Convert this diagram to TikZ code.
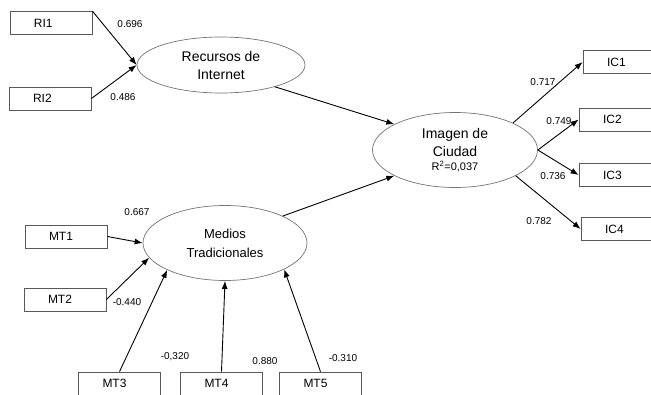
\documentclass[tikz,border=0pt]{standalone}
\usepackage{fontspec}
\setmainfont{Liberation Sans}
\usetikzlibrary{shapes.geometric,arrows.meta}

\tikzset{
  ind/.style={draw=black!65, line width=0.8pt, minimum height=23pt, text width=34pt,
    inner xsep=24pt, inner ysep=0pt, align=left, font=\fontsize{12}{14}\selectfont},
  lat/.style={ellipse, draw=black!55, line width=0.7pt, inner sep=0pt, align=center,
    font=\fontsize{14}{18}\selectfont},
  wt/.style={inner sep=0pt, font=\fontsize{10}{12}\selectfont},
}

\begin{document}
\begin{tikzpicture}[x=1pt,y=-1pt,>={Latex[length=8pt,width=6pt]},line width=0.9pt]
  \clip (0,0) rectangle (651,394);
  % indicadores
  \node[ind] (ri1) at (51,23) {RI1};
  \node[ind] (ri2) at (50,98.5) {RI2};
  \node[ind] (mt1) at (66,236.5) {MT1};
  \node[ind] (mt2) at (65,299.5) {MT2};
  \node[ind] (mt3) at (119.5,383.5) {MT3};
  \node[ind] (mt4) at (221.5,383.5) {MT4};
  \node[ind] (mt5) at (320.5,383.5) {MT5};
  \node[ind] (ic1) at (624,62) {IC1};
  \node[ind] (ic2) at (620,119.5) {IC2};
  \node[ind] (ic3) at (620,175) {IC3};
  \node[ind] (ic4) at (622,229) {IC4};
  % constructos
  \node[lat, minimum width=168pt, minimum height=56pt] (rec) at (221,65) {Recursos de\\Internet};
  \node[lat, minimum width=165pt, minimum height=75pt] (img) at (455,150)
    {Imagen de\\Ciudad\\[-4pt]{\fontsize{11}{14}\selectfont R\textsuperscript{2}=0,037}};
  \node[lat, minimum width=164pt, minimum height=75pt, font=\fontsize{13}{19}\selectfont] (med) at (225,243)
    {Medios\\Tradicionales};
  % pesos
  \node[wt] (lri1) at (130,24) {0.696};
  \node[wt] (lri2) at (123,97) {0.486};
  \node[wt] (lic1) at (543,82) {0.717};
  \node[wt] (lic2) at (559,121) {0.749};
  \node[wt] (lic3) at (553,176) {0.736};
  \node[wt] (lic4) at (539,221) {0.782};
  \node[wt] (lmt1) at (137,212) {0.667};
  \node[wt] (lmt2) at (127,302) {-0.440};
  \node[wt] (lmt3) at (175,357) {-0,320};
  \node[wt] (lmt4) at (265,361) {0.880};
  \node[wt] (lmt5) at (343,358) {-0.310};
  % conexiones
  \draw[->] (ri1.north east) -- (rec.west);
  \draw[->] (ri2.east) -- (rec.west);
  \draw[->] (rec.-22) -- (img.157);
  \draw[->] (med.25) -- (img.203);
  \draw[->] (mt1.east) -- (med.west);
  \draw[->] (mt2.east) -- (med.191);
  \draw[->] (mt3.north) -- (med.205);
  \draw[->] (mt4.north) -- (med.south);
  \draw[->] (mt5.north) -- (med.336);
  \draw[->] (img.25) -- (ic1.west);
  \draw[->] (img.east) -- (ic2.west);
  \draw[->] (img.east) -- (ic3.west);
  \draw[->] (img.-23) -- (ic4.west);
\end{tikzpicture}
\end{document}
